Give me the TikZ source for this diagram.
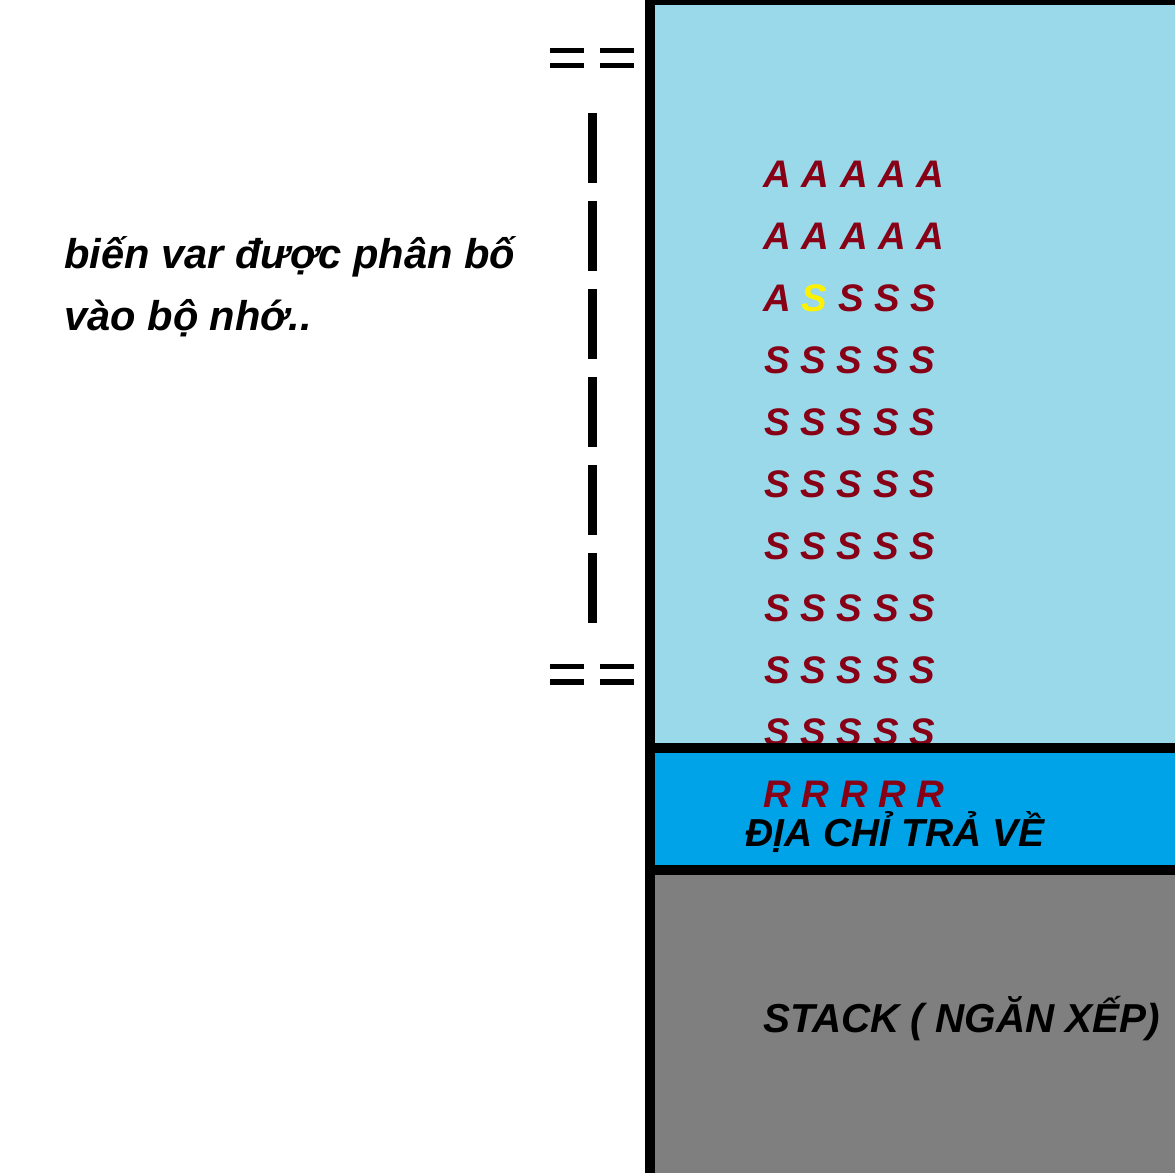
\documentclass[tikz,border=0pt]{standalone}
\usepackage{fontspec}
\setmainfont{Liberation Sans}
\definecolor{lightblue}{HTML}{99D9EA}
\definecolor{midblue}{HTML}{00A2E8}
\definecolor{stackgray}{HTML}{7F7F7F}
\definecolor{darkred}{HTML}{880015}
\definecolor{hiyellow}{HTML}{FFF200}
\begin{document}
\begin{tikzpicture}[x=0.5pt,y=-0.5pt,
  redrow/.style={anchor=base west,inner sep=0pt,text=darkred,font=\fontsize{19.2}{19}\selectfont\bfseries\itshape},
  blacklabel/.style={anchor=base west,inner sep=0pt,text=black,font=\fontsize{19.5}{19}\selectfont\bfseries\itshape},
  stacklabel/.style={anchor=base west,inner sep=0pt,text=black,font=\fontsize{20.2}{20}\selectfont\bfseries\itshape},
  sidelabel/.style={anchor=base west,inner sep=0pt,text=black,font=\fontsize{20.8}{21}\selectfont\bfseries\itshape},
  border/.style={line width=5pt,black},
  eqbar/.style={line width=2.8pt,black},
  dashbar/.style={line width=4.5pt,black,dash pattern=on 35pt off 9pt}]
\useasboundingbox (0,0) rectangle (1175,1173);
\begin{scope}
\clip (0,0) rectangle (1175,1173);
% memory regions
\fill[lightblue] (650,0) rectangle (1175,748);
\fill[midblue] (650,748) rectangle (1175,870);
\fill[stackgray] (650,870) rectangle (1175,1173);
% rows of letters
\node[redrow] (r1) at (763,187) {A A A A A};
\node[redrow] (r2) at (763,249) {A A A A A};
\node[redrow] (r3) at (763,311) {A {\color{hiyellow}S} S S S};
\node[redrow] (r4) at (764,373) {S S S S S};
\node[redrow] (r5) at (764,435) {S S S S S};
\node[redrow] (r6) at (764,497) {S S S S S};
\node[redrow] (r7) at (764,559) {S S S S S};
\node[redrow] (r8) at (764,621) {S S S S S};
\node[redrow] (r9) at (764,683) {S S S S S};
\node[redrow] (r10) at (764,745) {S S S S S};
\node[redrow] (r11) at (763,807) {R R R R R};
\node[blacklabel] (ret) at (745,846) {ĐỊA CHỈ TRẢ VỀ};
\node[stacklabel] (stk) at (763,1032) {STACK ( NGĂN XẾP)};
% borders
\draw[border] (650,0) -- (650,1180);
\draw[border] (645,0) -- (1180,0);
\draw[border] (655,748) -- (1180,748);
\draw[border] (655,869.5) -- (1180,869.5);
\end{scope}
% side annotation
\node[sidelabel] (v1) at (64,268) {biến var được phân bố};
\node[sidelabel] (v2) at (64,330) {vào bộ nhớ..};
% top equal marks
\draw[eqbar] (550,50.5) -- (584,50.5);
\draw[eqbar] (550,65.5) -- (584,65.5);
\draw[eqbar] (600,50.5) -- (634,50.5);
\draw[eqbar] (600,65.5) -- (634,65.5);
% bottom equal marks
\draw[eqbar] (550,666.5) -- (584,666.5);
\draw[eqbar] (550,682) -- (584,682);
\draw[eqbar] (600,666.5) -- (634,666.5);
\draw[eqbar] (600,682) -- (634,682);
% dashed extent line
\draw[dashbar] (592.5,113) -- (592.5,623);
\end{tikzpicture}
\end{document}
